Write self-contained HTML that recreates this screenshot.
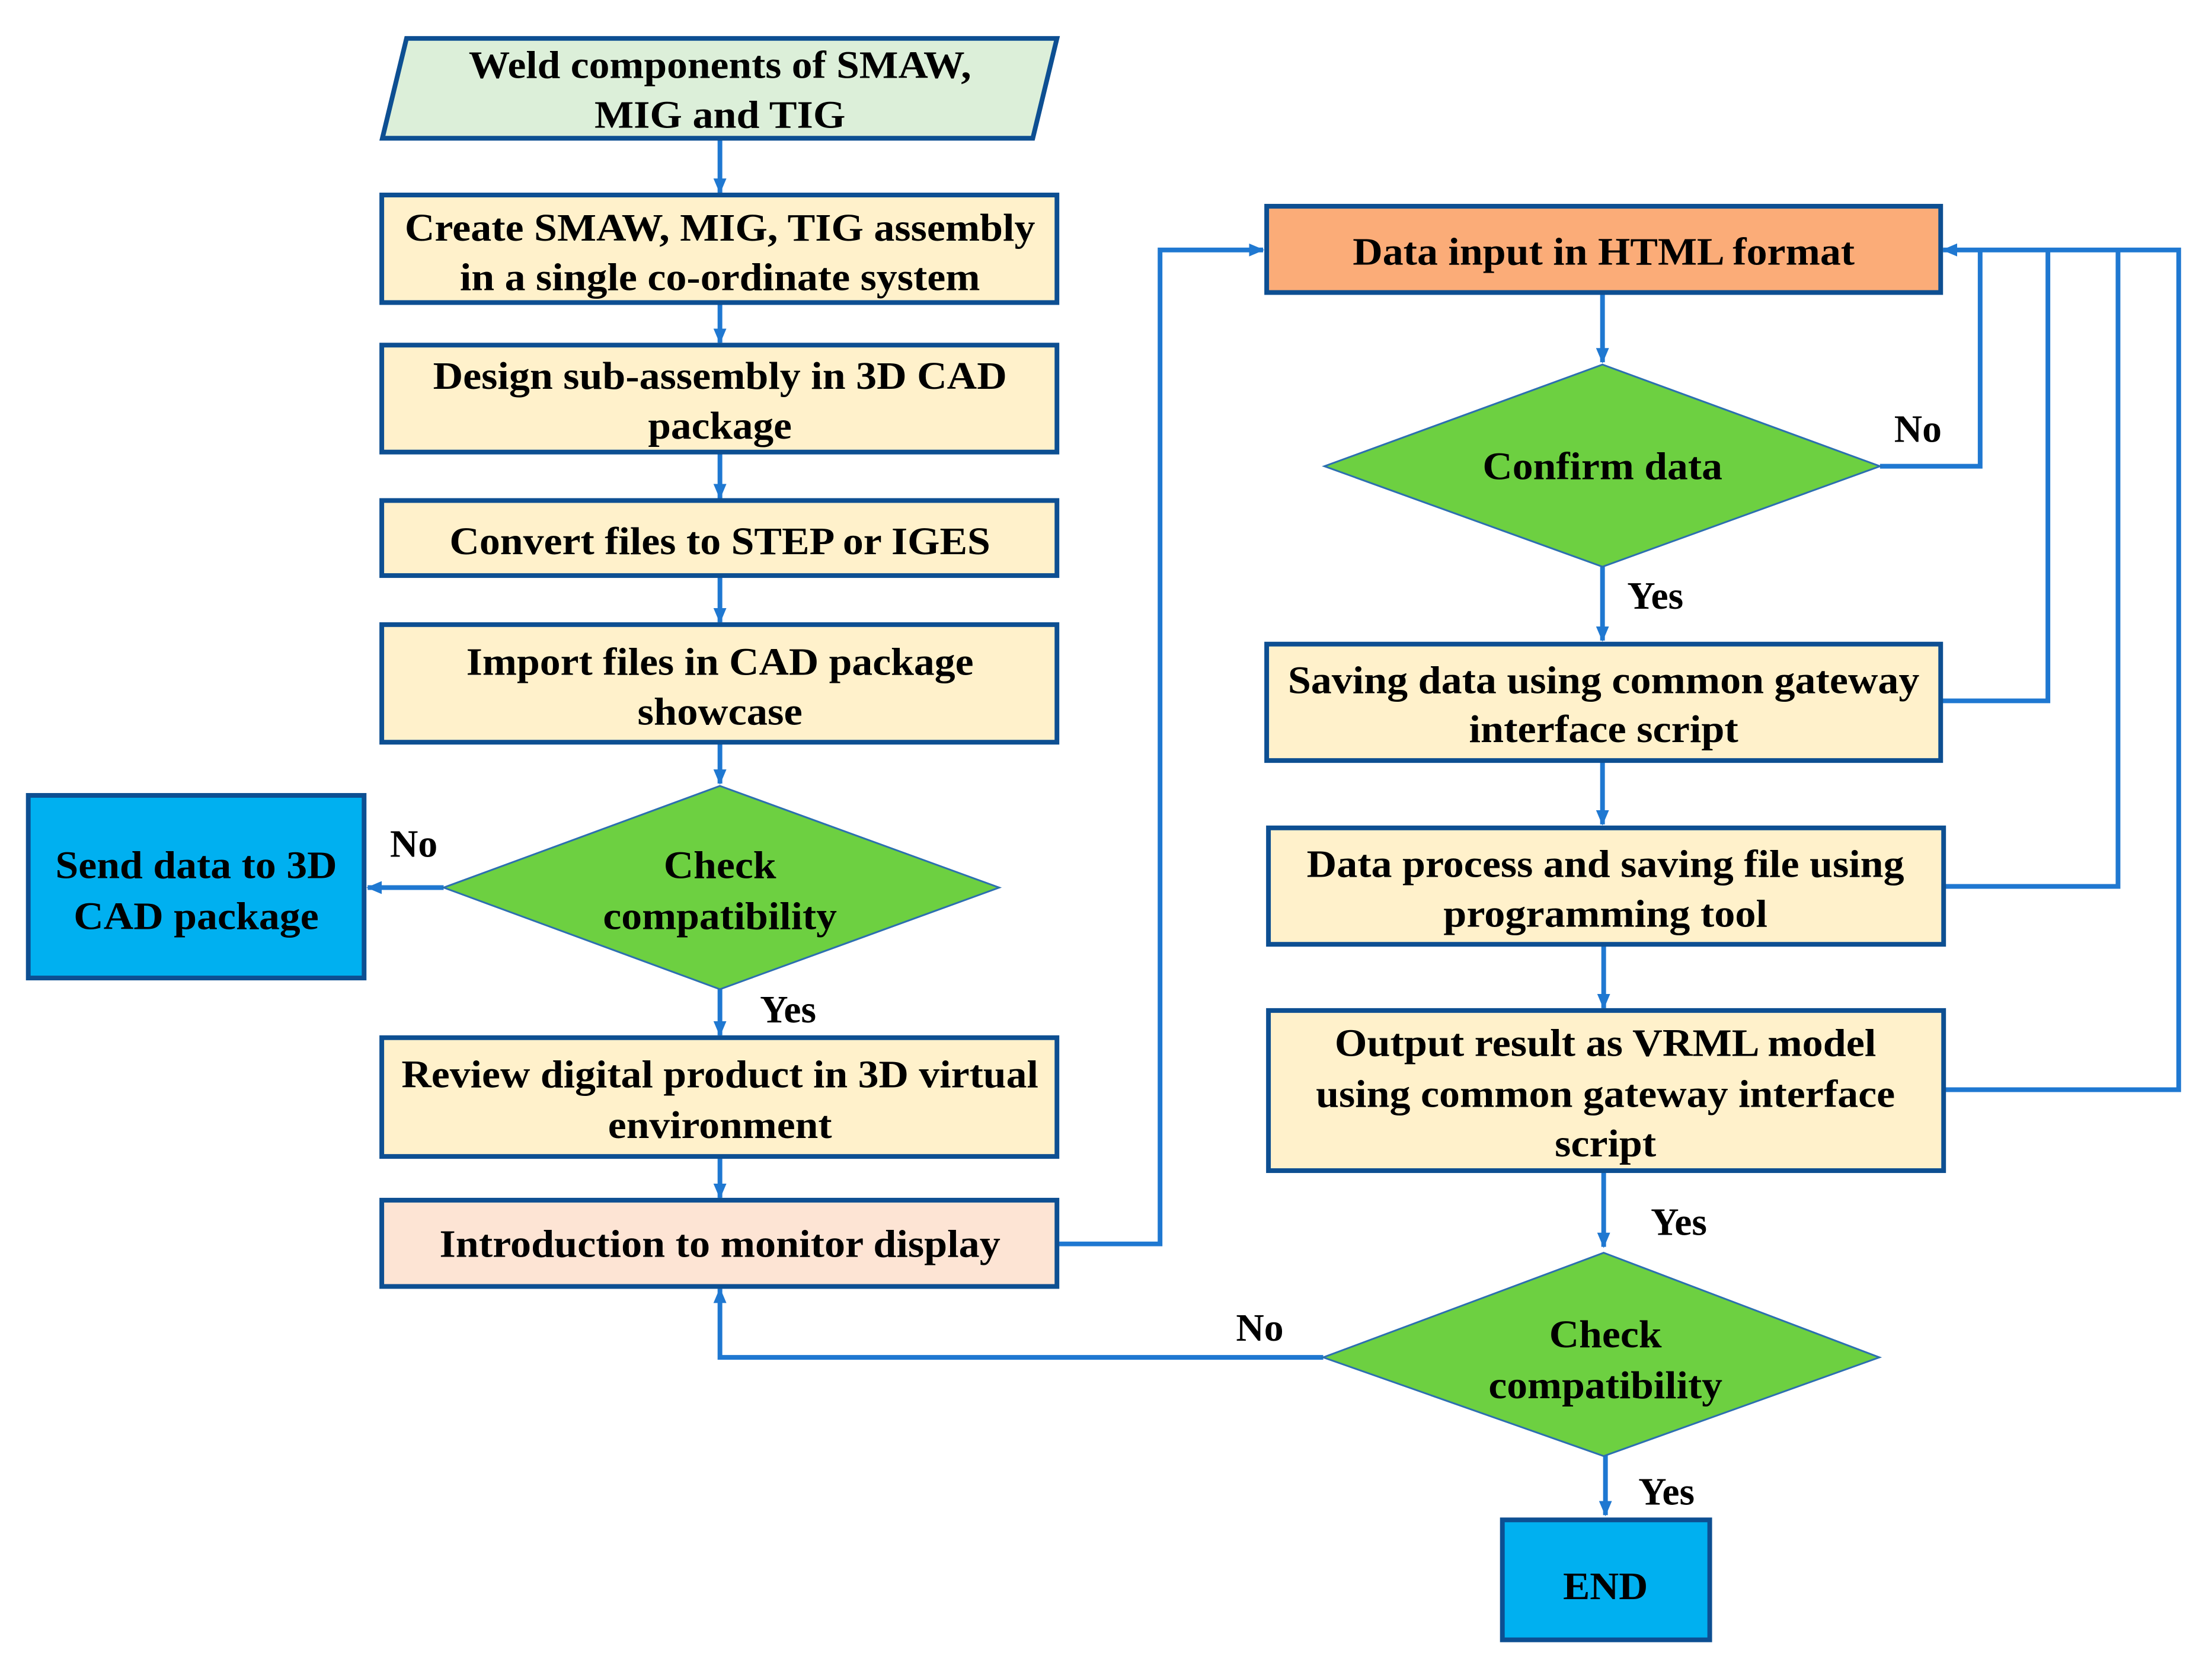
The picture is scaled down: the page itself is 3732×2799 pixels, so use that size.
<!DOCTYPE html>
<html><head><meta charset="utf-8"><style>
html,body{margin:0;padding:0;background:#fff}
svg{display:block}
text{font-family:"Liberation Serif",serif;font-weight:bold;font-size:66px;fill:#000;text-anchor:middle}
.lb{text-anchor:start}
</style></head><body>
<svg width="3732" height="2799" viewBox="0 0 3732 2799" xmlns="http://www.w3.org/2000/svg">
<defs>
<marker id="a" markerUnits="userSpaceOnUse" markerWidth="26" markerHeight="26" refX="24" refY="13" orient="auto">
<path d="M0,2 L26,13 L0,24 Z" fill="#1f78d1"/></marker>
</defs>
<g transform="scale(0.994,0.997)">
<g fill="none" stroke="#1f78d1" stroke-width="8">
<line x1="1222" y1="234" x2="1222" y2="326" marker-end="url(#a)"/>
<line x1="1222" y1="512" x2="1222" y2="580" marker-end="url(#a)"/>
<line x1="1222" y1="765" x2="1222" y2="843" marker-end="url(#a)"/>
<line x1="1222" y1="974" x2="1222" y2="1053" marker-end="url(#a)"/>
<line x1="1222" y1="1256" x2="1222" y2="1326" marker-end="url(#a)"/>
<line x1="753" y1="1502" x2="624" y2="1502" marker-end="url(#a)"/>
<line x1="1222" y1="1674" x2="1222" y2="1752" marker-end="url(#a)"/>
<line x1="1222" y1="1957" x2="1222" y2="2027" marker-end="url(#a)"/>
<polyline points="1794,2105 1969,2105 1969,423 2144,423" marker-end="url(#a)"/>
<line x1="2720" y1="495" x2="2720" y2="613" marker-end="url(#a)"/>
<line x1="2720" y1="959" x2="2720" y2="1084" marker-end="url(#a)"/>
<line x1="2720" y1="1287" x2="2720" y2="1395" marker-end="url(#a)"/>
<line x1="2722" y1="1598" x2="2722" y2="1706" marker-end="url(#a)"/>
<line x1="2722" y1="1981" x2="2722" y2="2110" marker-end="url(#a)"/>
<line x1="2725" y1="2458" x2="2725" y2="2564" marker-end="url(#a)"/>
<polyline points="2246,2297 1222,2297 1222,2181" marker-end="url(#a)"/>
<polyline points="3191,789 3361,789 3361,423"/>
<polyline points="3294,1186 3476,1186 3476,423"/>
<polyline points="3299,1500 3595,1500 3595,423"/>
<polyline points="3299,1844 3698,1844 3698,423 3298,423" marker-end="url(#a)"/>
</g>
<g stroke="#0d4f92" stroke-width="8">
<polygon points="690,65 1794,65 1753,234 649,234" fill="#dcefd9"/>
<rect x="648" y="330" width="1146" height="182" fill="#fff1cb"/>
<rect x="648" y="584" width="1146" height="181" fill="#fff1cb"/>
<rect x="648" y="847" width="1146" height="127" fill="#fff1cb"/>
<rect x="648" y="1057" width="1146" height="199" fill="#fff1cb"/>
<rect x="48" y="1346" width="570" height="309" fill="#00b0f0"/>
<rect x="648" y="1756" width="1146" height="201" fill="#fff1cb"/>
<rect x="648" y="2031" width="1146" height="146" fill="#fde4d4"/>
<rect x="2150" y="349" width="1144" height="146" fill="#fbac78"/>
<rect x="2150" y="1090" width="1144" height="197" fill="#fff1cb"/>
<rect x="2153" y="1401" width="1146" height="197" fill="#fff1cb"/>
<rect x="2153" y="1710" width="1146" height="271" fill="#fff1cb"/>
<rect x="2550" y="2572" width="352" height="203" fill="#00b0f0"/>
</g>
<g fill="#6dd041" stroke="#2c6fb0" stroke-width="3">
<polygon points="1222,1330 1696,1502 1222,1674 753,1502"/>
<polygon points="2720,617 3191,789 2720,959 2248,789"/>
<polygon points="2722,2120 3190,2297 2722,2464 2246,2297"/>
</g>
<text x="1222" y="132" textLength="853" lengthAdjust="spacingAndGlyphs">Weld components of SMAW,</text>
<text x="1222" y="216" textLength="426" lengthAdjust="spacingAndGlyphs">MIG and TIG</text>
<text x="1222" y="407" textLength="1070" lengthAdjust="spacingAndGlyphs">Create SMAW, MIG, TIG assembly</text>
<text x="1222" y="491" textLength="883" lengthAdjust="spacingAndGlyphs">in a single co-ordinate system</text>
<text x="1222" y="658" textLength="974" lengthAdjust="spacingAndGlyphs">Design sub-assembly in 3D CAD</text>
<text x="1222" y="742" textLength="244" lengthAdjust="spacingAndGlyphs">package</text>
<text x="1222" y="938" textLength="918" lengthAdjust="spacingAndGlyphs">Convert files to STEP or IGES</text>
<text x="1222" y="1142" textLength="861" lengthAdjust="spacingAndGlyphs">Import files in CAD package</text>
<text x="1222" y="1226" textLength="280" lengthAdjust="spacingAndGlyphs">showcase</text>
<text x="1222" y="1486" textLength="191" lengthAdjust="spacingAndGlyphs">Check</text>
<text x="1222" y="1572" textLength="397" lengthAdjust="spacingAndGlyphs">compatibility</text>
<text x="333" y="1486" textLength="478" lengthAdjust="spacingAndGlyphs">Send data to 3D</text>
<text x="333" y="1572" textLength="416" lengthAdjust="spacingAndGlyphs">CAD package</text>
<text x="1222" y="1840" textLength="1081" lengthAdjust="spacingAndGlyphs">Review digital product in 3D virtual</text>
<text x="1222" y="1926" textLength="380" lengthAdjust="spacingAndGlyphs">environment</text>
<text x="1222" y="2127" textLength="952" lengthAdjust="spacingAndGlyphs">Introduction to monitor display</text>
<text x="2722" y="448" textLength="852" lengthAdjust="spacingAndGlyphs">Data input in HTML format</text>
<text x="2720" y="811" textLength="407" lengthAdjust="spacingAndGlyphs">Confirm data</text>
<text x="2722" y="1173" textLength="1072" lengthAdjust="spacingAndGlyphs">Saving data using common gateway</text>
<text x="2722" y="1256" textLength="457" lengthAdjust="spacingAndGlyphs">interface script</text>
<text x="2725" y="1484" textLength="1014" lengthAdjust="spacingAndGlyphs">Data process and saving file using</text>
<text x="2725" y="1568" textLength="550" lengthAdjust="spacingAndGlyphs">programming tool</text>
<text x="2725" y="1787" textLength="919" lengthAdjust="spacingAndGlyphs">Output result as VRML model</text>
<text x="2725" y="1873" textLength="983" lengthAdjust="spacingAndGlyphs">using common gateway interface</text>
<text x="2725" y="1957" textLength="172" lengthAdjust="spacingAndGlyphs">script</text>
<text x="2725" y="2280" textLength="191" lengthAdjust="spacingAndGlyphs">Check</text>
<text x="2725" y="2366" textLength="397" lengthAdjust="spacingAndGlyphs">compatibility</text>
<text x="2725" y="2706" textLength="144" lengthAdjust="spacingAndGlyphs">END</text>
<text class="lb" x="662" y="1450">No</text>
<text class="lb" x="1290" y="1730">Yes</text>
<text class="lb" x="3215" y="748">No</text>
<text class="lb" x="2762" y="1030">Yes</text>
<text class="lb" x="2802" y="2090">Yes</text>
<text class="lb" x="2098" y="2269">No</text>
<text class="lb" x="2781" y="2546">Yes</text>
</g>
</svg>
</body></html>
